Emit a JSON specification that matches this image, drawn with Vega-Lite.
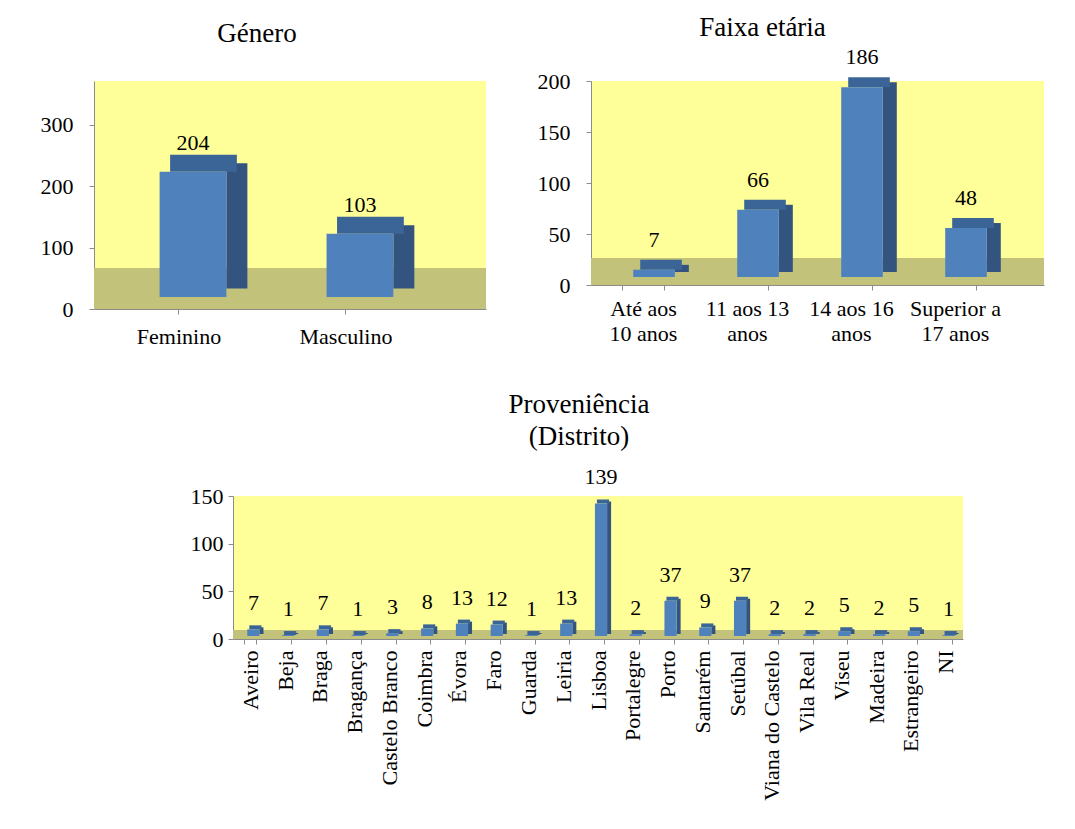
{
  "$schema": "https://vega.github.io/schema/vega-lite/v6.json",
  "background": "white",
  "padding": {"left": 40, "top": 14, "right": 5, "bottom": 5},
  "config": {
    "font": "Liberation Serif",
    "view": {"fill": "#FFFF99", "stroke": null},
    "axis": {"labelFont": "Liberation Serif", "labelFontSize": 22, "labelColor": "black", "domainColor": "#8c8c8c", "tickColor": "#8c8c8c", "grid": false, "ticks": true, "tickSize": 5},
    "text": {"font": "Liberation Serif", "fontSize": 22},
    "title": {"font": "Liberation Serif", "fontSize": 27, "fontWeight": "normal", "color": "black"}
  },
  "datasets": {
    "genero": [
      {"categoria": "Feminino", "n": 204},
      {"categoria": "Masculino", "n": 103}
    ],
    "faixa": [
      {"categoria": "Até  aos|10 anos", "n": 7},
      {"categoria": "11 aos 13|anos", "n": 66},
      {"categoria": "14 aos 16|anos", "n": 186},
      {"categoria": "Superior a|17 anos", "n": 48}
    ],
    "distrito": [
      {"distrito": "Aveiro", "n": 7},
      {"distrito": "Beja", "n": 1},
      {"distrito": "Braga", "n": 7},
      {"distrito": "Bragança", "n": 1},
      {"distrito": "Castelo Branco", "n": 3},
      {"distrito": "Coimbra", "n": 8},
      {"distrito": "Évora", "n": 13},
      {"distrito": "Faro", "n": 12},
      {"distrito": "Guarda", "n": 1},
      {"distrito": "Leiria", "n": 13},
      {"distrito": "Lisboa", "n": 139},
      {"distrito": "Portalegre", "n": 2},
      {"distrito": "Porto", "n": 37},
      {"distrito": "Santarém", "n": 9},
      {"distrito": "Setúbal", "n": 37},
      {"distrito": "Viana do Castelo", "n": 2},
      {"distrito": "Vila Real", "n": 2},
      {"distrito": "Viseu", "n": 5},
      {"distrito": "Madeira", "n": 2},
      {"distrito": "Estrangeiro", "n": 5},
      {"distrito": "NI", "n": 1}
    ]
  },
  "vconcat": [
    {
      "hconcat": [
        {
          "title": {"text": "Género", "offset": 33, "dx": -33},
          "width": 392,
          "height": 228,
          "data": {"name": "genero"},
          "layer": [
            {
              "mark": {"type": "rect", "color": "#C2C27A"},
              "encoding": {
                "y": {"datum": 0, "type": "quantitative", "scale": {"domain": [0, 371.7], "nice": false},
                  "axis": {"values": [0, 100, 200, 300], "labelPadding": 16, "title": null, "labelFont": "Liberation Serif", "labelFontSize": 22}},
                "y2": {"datum": 67}
              }
            },
            {
              "mark": {"type": "bar", "color": "#32547F", "width": 21, "xOffset": 57.9, "yOffset": -20.5},
              "encoding": {
                "x": {"field": "categoria", "type": "nominal", "sort": null,
                  "scale": {"paddingInner": 0.6, "paddingOuter": 0.474, "align": 0.326},
                  "axis": {"labelAngle": 0, "labelPadding": 12, "title": null, "labelFont": "Liberation Serif", "labelFontSize": 22}},
                "y": {"field": "n", "type": "quantitative"}
              }
            },
            {
              "mark": {"type": "bar", "color": "#3B6597", "xOffset": 24.5, "yOffset": -29, "y2Offset": -12},
              "encoding": {
                "x": {"field": "categoria", "type": "nominal", "sort": null},
                "y": {"field": "n", "type": "quantitative"},
                "y2": {"field": "n"}
              }
            },
            {
              "mark": {"type": "bar", "color": "#4F81BD", "xOffset": 14, "yOffset": -12},
              "encoding": {
                "x": {"field": "categoria", "type": "nominal", "sort": null},
                "y": {"field": "n", "type": "quantitative"}
              }
            },
            {
              "mark": {"type": "text", "dy": -29, "dx": 14, "baseline": "bottom", "font": "Liberation Serif", "fontSize": 22},
              "encoding": {
                "x": {"field": "categoria", "type": "nominal", "sort": null},
                "y": {"field": "n", "type": "quantitative"},
                "text": {"field": "n"}
              }
            }
          ]
        },
        {
          "title": {"text": "Faixa etária", "offset": 4, "dx": -55},
          "width": 453,
          "height": 204,
          "data": {"name": "faixa"},
          "layer": [
            {
              "mark": {"type": "rect", "color": "#C2C27A"},
              "encoding": {
                "y": {"datum": 0, "type": "quantitative", "scale": {"domain": [0, 200], "nice": false},
                  "axis": {"values": [0, 50, 100, 150, 200], "labelPadding": 16, "title": null, "labelFont": "Liberation Serif", "labelFontSize": 22}},
                "y2": {"datum": 26.5}
              }
            },
            {
              "mark": {"type": "bar", "color": "#32547F", "width": 14, "xOffset": 38.8, "yOffset": -13},
              "encoding": {
                "x": {"field": "categoria", "type": "nominal", "sort": null,
                  "scale": {"paddingInner": 0.6, "paddingOuter": 0.478, "align": 0.314},
                  "axis": {"labelAngle": 0, "labelPadding": 8, "labelExpr": "split(datum.label, '|')", "labelLineHeight": 25, "tickBand": "extent", "title": null, "labelFont": "Liberation Serif", "labelFontSize": 22}},
                "y": {"field": "n", "type": "quantitative"}
              }
            },
            {
              "mark": {"type": "bar", "color": "#3B6597", "xOffset": 18, "yOffset": -18, "y2Offset": -8},
              "encoding": {
                "x": {"field": "categoria", "type": "nominal", "sort": null},
                "y": {"field": "n", "type": "quantitative"},
                "y2": {"field": "n"}
              }
            },
            {
              "mark": {"type": "bar", "color": "#4F81BD", "xOffset": 11, "yOffset": -8},
              "encoding": {
                "x": {"field": "categoria", "type": "nominal", "sort": null},
                "y": {"field": "n", "type": "quantitative"}
              }
            },
            {
              "mark": {"type": "text", "dy": -26, "dx": 11, "baseline": "bottom", "font": "Liberation Serif", "fontSize": 22},
              "encoding": {
                "x": {"field": "categoria", "type": "nominal", "sort": null},
                "y": {"field": "n", "type": "quantitative"},
                "text": {"field": "n"}
              }
            }
          ]
        }
      ],
      "spacing": 51
    },
    {
      "hconcat": [
        {
          "width": 1,
          "height": 1,
          "data": {"values": []},
          "mark": {"type": "point", "opacity": 0},
          "view": {"fill": null, "stroke": null}
        },
        {
          "title": {"text": ["Proveniência", "(Distrito)"], "offset": 15, "lineHeight": 32, "dx": -19},
          "width": 730,
          "height": 143,
          "data": {"name": "distrito"},
          "layer": [
            {
              "mark": {"type": "rect", "color": "#C2C27A"},
              "encoding": {
                "y": {"datum": 0, "type": "quantitative", "scale": {"domain": [0, 150], "nice": false},
                  "axis": {"values": [0, 50, 100, 150], "labelPadding": 5, "title": null, "labelFont": "Liberation Serif", "labelFontSize": 22}},
                "y2": {"datum": 9}
              }
            },
            {
              "mark": {"type": "bar", "color": "#32547F", "width": 4, "xOffset": 11.1, "yOffset": -5},
              "encoding": {
                "x": {"field": "distrito", "type": "nominal", "sort": null,
                  "scale": {"paddingInner": 0.65, "paddingOuter": 0.325},
                  "axis": {"labelAngle": -90, "labelPadding": 6, "labelAlign": "right", "labelBaseline": "middle", "tickBand": "extent", "title": null, "labelFont": "Liberation Serif", "labelFontSize": 22}},
                "y": {"field": "n", "type": "quantitative"}
              }
            },
            {
              "mark": {"type": "bar", "color": "#3B6597", "xOffset": 5, "yOffset": -7, "y2Offset": -3},
              "encoding": {
                "x": {"field": "distrito", "type": "nominal", "sort": null},
                "y": {"field": "n", "type": "quantitative"},
                "y2": {"field": "n"}
              }
            },
            {
              "mark": {"type": "bar", "color": "#4F81BD", "xOffset": 3, "yOffset": -3},
              "encoding": {
                "x": {"field": "distrito", "type": "nominal", "sort": null},
                "y": {"field": "n", "type": "quantitative"}
              }
            },
            {
              "mark": {"type": "text", "dy": -17, "dx": 3, "baseline": "bottom", "font": "Liberation Serif", "fontSize": 22},
              "encoding": {
                "x": {"field": "distrito", "type": "nominal", "sort": null},
                "y": {"field": "n", "type": "quantitative"},
                "text": {"field": "n"}
              }
            }
          ]
        }
      ],
      "spacing": 95
    }
  ],
  "spacing": 44
}
